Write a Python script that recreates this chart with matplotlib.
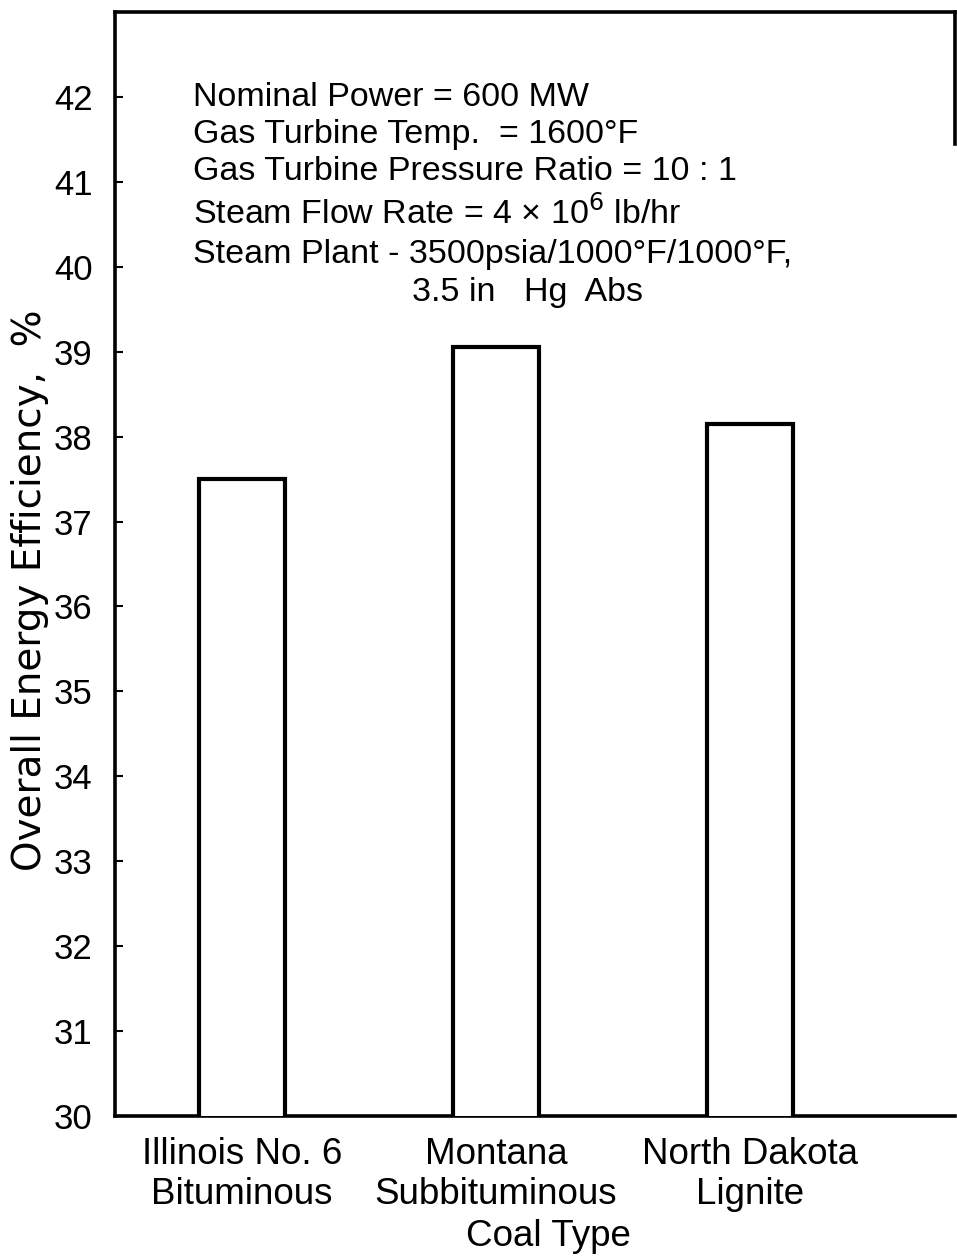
import matplotlib
matplotlib.use("Agg")
import matplotlib.pyplot as plt

categories = ["Illinois No. 6\nBituminous", "Montana\nSubbituminous", "North Dakota\nLignite"]
efficiency = [37.5, 39.05, 38.15]
yticks = list(range(30, 43))
notes = [
    "Nominal Power = 600 MW",
    "Gas Turbine Temp.  = 1600°F",
    "Gas Turbine Pressure Ratio = 10 : 1",
    "Steam Flow Rate = 4 × 10$^6$ lb/hr",
    "Steam Plant - 3500psia/1000°F/1000°F,",
]
note_last = "3.5 in   Hg  Abs"

NARROW = ["Liberation Sans", "DejaVu Sans"]

fig = plt.figure(figsize=(9.57, 12.56), dpi=100)
ax = fig.add_axes([115/957, 1 - 1116/1256, (955 - 115)/957, (1116 - 12)/1256])

x = list(range(len(categories)))
ax.bar(x, efficiency, width=0.335, bottom=0, facecolor="white",
       edgecolor="black", linewidth=3.0, zorder=3)

ax.set_xlim(-0.5, 2.807)
ax.set_ylim(30, 43)

for side in ["left", "top", "bottom", "right"]:
    ax.spines[side].set_linewidth(2.6)
ax.spines["right"].set_bounds(41.45, 43)

ax.set_yticks(yticks)
ax.set_yticklabels([str(v) for v in yticks], family=NARROW, fontsize=25)
ax.tick_params(axis="y", direction="in", length=6, width=1.5, pad=16)
ax.set_xticks(x)
ax.set_xticklabels(categories, family=NARROW, fontsize=26.5, linespacing=1.2)
ax.tick_params(axis="x", length=0, pad=15)

fig.text(30/957, 1 - 590/1256, "Overall Energy Efficiency,  %", family=["DejaVu Sans"],
         fontsize=28, rotation=90, ha="center", va="center")
fig.text(548/957, 1 - 1236/1256, "Coal Type", family=NARROW, fontsize=26.5,
         ha="center", va="center")

ys = [98, 135, 172, 213, 255]
for t, yp in zip(notes, ys):
    fig.text(193/957, 1 - yp/1256, t, family=NARROW, fontsize=24.5, ha="left", va="center")
fig.text(412/957, 1 - 292/1256, note_last, family=NARROW, fontsize=24.5, ha="left", va="center")

fig.savefig("out.png", dpi=100)
